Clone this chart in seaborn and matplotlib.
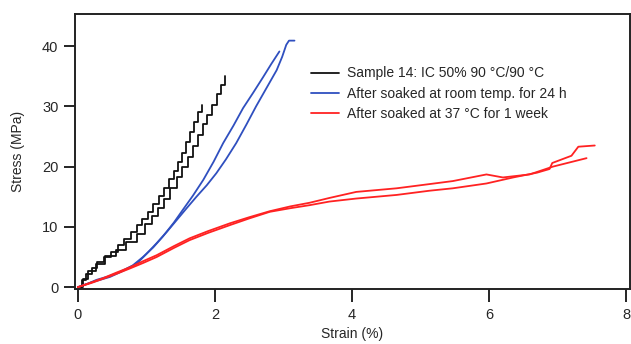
import matplotlib
matplotlib.use("Agg")
import matplotlib.pyplot as plt
import seaborn as sns
import pandas as pd

# ---- data ----
black_a_x = [0, 0.06, 0.12, 0.2, 0.28, 0.38, 0.48, 0.58, 0.68, 0.78, 0.86, 0.94, 1.02, 1.1, 1.18, 1.26, 1.33, 1.4, 1.46, 1.52, 1.58, 1.64, 1.7, 1.76, 1.81]
black_a_y = [0, 1.2, 2.2, 3.2, 4.1, 5.0, 5.9, 7.0, 8.0, 9.2, 10.3, 11.3, 12.5, 13.8, 15.1, 16.5, 17.9, 19.3, 20.7, 22.2, 24.0, 25.7, 27.4, 29.0, 30.3]
black_b_x = [0, 0.07, 0.15, 0.27, 0.4, 0.56, 0.7, 0.86, 0.98, 1.08, 1.17, 1.26, 1.35, 1.44, 1.52, 1.6, 1.68, 1.75, 1.82, 1.89, 1.96, 2.03, 2.09, 2.15]
black_b_y = [0, 1.3, 2.6, 3.9, 5.2, 6.1, 7.5, 8.9, 10.4, 11.8, 13.2, 14.7, 16.4, 18.3, 19.9, 21.6, 23.5, 25.3, 27.0, 28.6, 30.2, 32.0, 33.5, 35.0]

blue_a_x = [0, 0.15, 0.27, 0.45, 0.61, 0.8, 0.95, 1.1, 1.24, 1.4, 1.53, 1.68, 1.83, 1.98, 2.12, 2.27, 2.41, 2.56, 2.7, 2.82, 2.94]
blue_a_y = [0, 0.6, 1.2, 1.8, 2.5, 3.6, 5.0, 6.6, 8.4, 10.7, 12.8, 15.2, 17.8, 20.8, 23.9, 26.8, 29.7, 32.3, 34.8, 37.0, 39.1]
blue_b_x = [0, 0.2, 0.47, 0.66, 0.86, 1.0, 1.15, 1.3, 1.44, 1.58, 1.73, 1.88, 2.02, 2.16, 2.31, 2.46, 2.6, 2.75, 2.9, 2.98, 3.04, 3.08, 3.16]
blue_b_y = [0, 0.8, 1.7, 2.7, 3.9, 5.5, 7.3, 9.2, 11.1, 13.0, 15.0, 16.9, 18.9, 21.2, 23.9, 27.0, 30.0, 33.0, 36.0, 38.2, 40.2, 40.9, 40.9]

red_a_x = [0, 0.2, 0.37, 0.56, 0.76, 0.95, 1.15, 1.4, 1.63, 1.9, 2.22, 2.5, 2.8, 3.1, 3.38, 3.67, 4.06, 4.65, 5.13, 5.47, 5.96, 6.35, 6.7, 6.88, 6.92, 7.2, 7.3, 7.54]
red_a_y = [0, 0.7, 1.4, 2.2, 3.1, 4.0, 5.0, 6.5, 7.8, 9.0, 10.3, 11.4, 12.5, 13.1, 13.6, 14.2, 14.7, 15.3, 16.0, 16.4, 17.2, 18.2, 19.0, 19.6, 20.6, 21.8, 23.3, 23.5]
red_b_x = [0, 0.2, 0.37, 0.56, 0.76, 0.95, 1.15, 1.4, 1.63, 1.9, 2.22, 2.5, 2.8, 3.1, 3.38, 3.67, 4.06, 4.65, 5.13, 5.47, 5.96, 6.2, 6.59, 6.93, 7.42]
red_b_y = [0, 0.8, 1.5, 2.4, 3.3, 4.3, 5.3, 6.8, 8.1, 9.3, 10.6, 11.6, 12.6, 13.4, 14.0, 14.8, 15.8, 16.4, 17.1, 17.6, 18.7, 18.2, 18.7, 20.0, 21.4]

labels = ["Sample 14: IC 50% 90 °C/90 °C",
          "After soaked at room temp. for 24 h",
          "After soaked at 37 °C for 1 week"]
colors = ["#111111", "#2f4fbf", "#ff2222"]

x_ticks = [0, 2, 4, 6, 8]
y_ticks = [0, 10, 20, 30, 40]

sns.set_theme(style="white")
plt.rcParams["font.family"] = ["Liberation Sans", "DejaVu Sans"]

fig = plt.figure(figsize=(6.31, 3.44), dpi=100)
ax = fig.add_axes([0.119, 0.160, 0.879, 0.799])

curves = [
    (black_a_x, black_a_y, 0, "steps-post", True),
    (black_b_x, black_b_y, 0, "steps-post", False),
    (blue_a_x, blue_a_y, 1, "default", True),
    (blue_b_x, blue_b_y, 1, "default", False),
    (red_a_x, red_a_y, 2, "default", True),
    (red_b_x, red_b_y, 2, "default", False),
]
for xs, ys, ci, ds, lab in curves:
    df = pd.DataFrame({"x": xs, "y": ys})
    sns.lineplot(data=df, x="x", y="y", sort=False, estimator=None, ax=ax,
                 color=colors[ci], lw=1.3, drawstyle=ds,
                 label=labels[ci] if lab else None)

ax.set_xlim(-0.04, 8.05)
ax.set_ylim(-0.3, 45.3)
ax.set_xticks(x_ticks)
ax.set_yticks(y_ticks)
ax.set_xlabel("Strain (%)", fontsize=10, labelpad=3)
ax.set_ylabel("Stress (MPa)", fontsize=10, labelpad=12)
ax.tick_params(axis="x", which="major", direction="out", length=9, width=1.2,
               labelsize=10.5, color="black", bottom=True, pad=5)
ax.tick_params(axis="y", which="major", direction="out", length=8, width=1.2,
               labelsize=10.5, color="black", left=True, pad=4)
for s in ax.spines.values():
    s.set_color("#222222")
    s.set_linewidth(1.4)

leg = ax.legend(loc="upper left", bbox_to_anchor=(0.415, 0.83), frameon=False,
                fontsize=10, handlelength=2.0, handletextpad=0.6, labelspacing=0.45,
                borderaxespad=0)
for h in leg.get_lines():
    h.set_linewidth(1.3)

fig.savefig("out.png", dpi=100)
